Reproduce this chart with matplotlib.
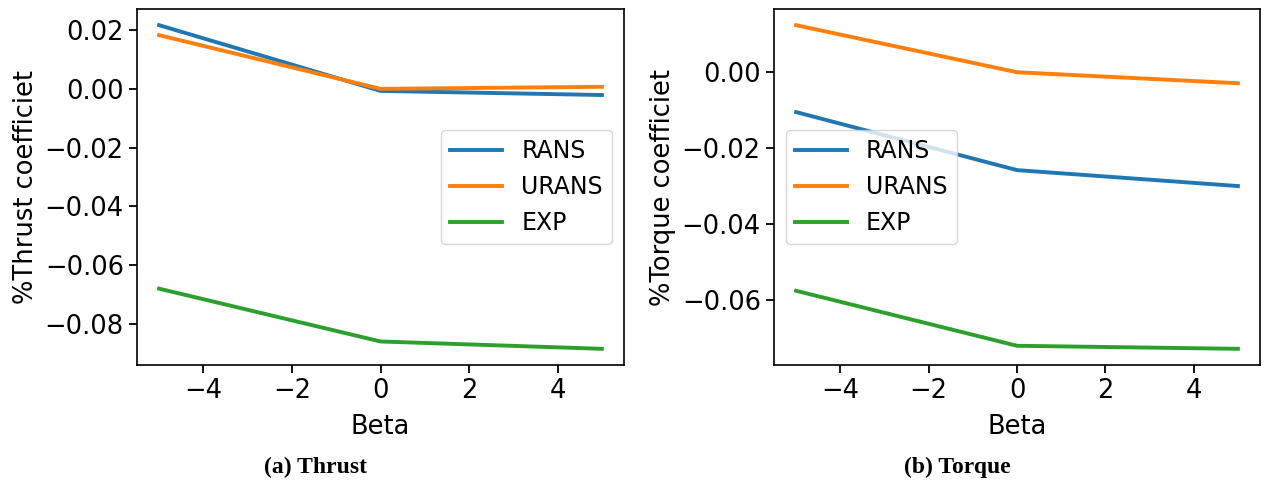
import matplotlib
matplotlib.use("Agg")
import matplotlib.pyplot as plt

beta = [-5, 0, 5]

# thrust coefficient (%)
thrust_rans = [0.0217, -0.0007, -0.0021]
thrust_urans = [0.0183, 0.0000, 0.0007]
thrust_exp = [-0.0681, -0.0861, -0.0886]

# torque coefficient (%)
torque_rans = [-0.0105, -0.0258, -0.0300]
torque_urans = [0.0124, 0.0000, -0.0029]
torque_exp = [-0.0576, -0.0721, -0.0729]

labels = ["RANS", "URANS", "EXP"]

plt.rcParams["font.size"] = 18.5

fig = plt.figure(figsize=(12.71, 4.83), dpi=100)
ax1 = fig.add_axes([137/1271, 1-365/483, (624-137)/1271, (365-9)/483])
ax2 = fig.add_axes([774/1271, 1-365/483, (1260-774)/1271, (365-9)/483])

for y, lab in zip([thrust_rans, thrust_urans, thrust_exp], labels):
    ax1.plot(beta, y, lw=2.8, label=lab)
ax1.set_xlabel("Beta", labelpad=7)
ax1.set_ylabel("%Thrust coefficiet")
ax1.set_yticks([0.02, 0.0, -0.02, -0.04, -0.06, -0.08])
ax1.set_xticks([-4, -2, 0, 2, 4])
ax1.legend(loc="center right", fontsize=17, handlelength=2.2)

for y, lab in zip([torque_rans, torque_urans, torque_exp], labels):
    ax2.plot(beta, y, lw=2.8, label=lab)
ax2.set_xlabel("Beta", labelpad=7)
ax2.set_ylabel("%Torque coefficiet")
ax2.set_yticks([0.0, -0.02, -0.04, -0.06])
ax2.set_xticks([-4, -2, 0, 2, 4])
ax2.legend(loc="center left", fontsize=17, handlelength=2.2)

for ax in (ax1, ax2):
    ax.tick_params(length=6, width=1.3)
    for s in ax.spines.values():
        s.set_linewidth(1.2)

fig.text(316/1271, 1-467/483, "(a) Thrust", ha="center", va="center",
         family="Liberation Serif", weight="bold", fontsize=17)
fig.text(957/1271, 1-467/483, "(b) Torque", ha="center", va="center",
         family="Liberation Serif", weight="bold", fontsize=17)

fig.savefig("out.png", dpi=100)
